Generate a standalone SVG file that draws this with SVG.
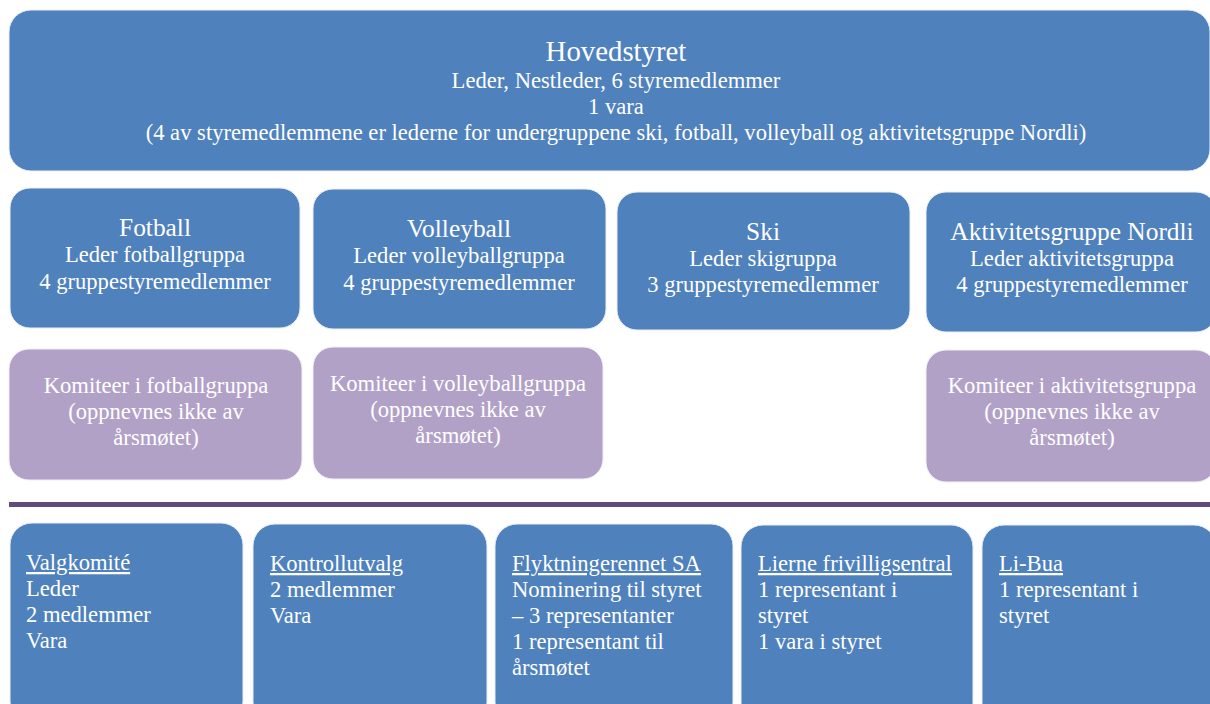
<svg xmlns="http://www.w3.org/2000/svg" width="1210" height="704" viewBox="0 0 1210 704">
<style>
.b{fill:#4f81bd;stroke:#e8eef7;stroke-width:1}
.p{fill:#b2a1c7;stroke:#f2eef7;stroke-width:1}
text{font-family:"Liberation Serif",serif;fill:#fff;font-size:22.6px}
.c{text-anchor:middle}
.t1{font-size:28.8px}
.t2{font-size:25.4px}
.u{text-decoration:underline}
</style>
<rect width="1210" height="704" fill="#fff"/>
<g id="hovedstyret">
<rect class="b" x="9" y="10" width="1201" height="161" rx="22"/>
<text class="c t1" x="616" y="61">Hovedstyret</text>
<text class="c" x="616" y="88">Leder, Nestleder, 6 styremedlemmer</text>
<text class="c" x="616" y="114">1 vara</text>
<text class="c" x="616" y="140">(4 av styremedlemmene er lederne for undergruppene ski, fotball, volleyball og aktivitetsgruppe Nordli)</text>
</g>
<g id="fotball">
<rect class="b" x="10" y="188" width="290" height="140" rx="20"/>
<text class="c t2" x="155" y="236">Fotball</text>
<text class="c" x="155" y="262">Leder fotballgruppa</text>
<text class="c" x="155" y="289">4 gruppestyremedlemmer</text>
</g>
<g id="volleyball">
<rect class="b" x="313" y="189" width="293" height="140" rx="20"/>
<text class="c t2" x="459" y="237">Volleyball</text>
<text class="c" x="459" y="263">Leder volleyballgruppa</text>
<text class="c" x="459" y="290">4 gruppestyremedlemmer</text>
</g>
<g id="ski">
<rect class="b" x="617" y="192" width="293" height="138" rx="20"/>
<text class="c t2" x="763" y="240">Ski</text>
<text class="c" x="763" y="266">Leder skigruppa</text>
<text class="c" x="763" y="292">3 gruppestyremedlemmer</text>
</g>
<g id="aktivitetsgruppe">
<rect class="b" x="926" y="192" width="290" height="140" rx="20"/>
<text class="c t2" x="1072" y="240">Aktivitetsgruppe Nordli</text>
<text class="c" x="1072" y="266">Leder aktivitetsgruppa</text>
<text class="c" x="1072" y="292">4 gruppestyremedlemmer</text>
</g>
<g id="komite-fotball">
<rect class="p" x="9" y="349" width="293" height="131" rx="20"/>
<text class="c" x="156" y="393">Komiteer i fotballgruppa</text>
<text class="c" x="156" y="419">(oppnevnes ikke av</text>
<text class="c" x="156" y="445">årsmøtet)</text>
</g>
<g id="komite-volleyball">
<rect class="p" x="313" y="347" width="290" height="132" rx="20"/>
<text class="c" x="458" y="391">Komiteer i volleyballgruppa</text>
<text class="c" x="458" y="417">(oppnevnes ikke av</text>
<text class="c" x="458" y="443">årsmøtet)</text>
</g>
<g id="komite-aktivitet">
<rect class="p" x="926" y="350" width="290" height="132" rx="20"/>
<text class="c" x="1072" y="393">Komiteer i aktivitetsgruppa</text>
<text class="c" x="1072" y="419">(oppnevnes ikke av</text>
<text class="c" x="1072" y="445">årsmøtet)</text>
</g>
<g id="connectors">
<rect x="9" y="502" width="1201" height="5" fill="#5f4b7d"/>
</g>
<g id="valgkomite">
<rect class="b" x="10" y="523" width="233" height="200" rx="22"/>
<text class="u" x="26" y="570">Valgkomité</text>
<text x="26" y="596">Leder</text>
<text x="26" y="622">2 medlemmer</text>
<text x="26" y="648">Vara</text>
</g>
<g id="kontrollutvalg">
<rect class="b" x="253" y="524" width="234" height="200" rx="22"/>
<text class="u" x="270" y="571">Kontrollutvalg</text>
<text x="270" y="597">2 medlemmer</text>
<text x="270" y="623">Vara</text>
</g>
<g id="flyktningerennet">
<rect class="b" x="495" y="524" width="238" height="200" rx="22"/>
<text class="u" x="512" y="571">Flyktningerennet SA</text>
<text x="512" y="597">Nominering til styret</text>
<text x="512" y="623">– 3 representanter</text>
<text x="512" y="649">1 representant til</text>
<text x="512" y="675">årsmøtet</text>
</g>
<g id="lierne">
<rect class="b" x="741" y="525" width="232" height="200" rx="22"/>
<text class="u" x="758" y="571">Lierne frivilligsentral</text>
<text x="758" y="597">1 representant i</text>
<text x="758" y="623">styret</text>
<text x="758" y="649">1 vara i styret</text>
</g>
<g id="libua">
<rect class="b" x="982" y="525" width="234" height="200" rx="22"/>
<text class="u" x="999" y="571">Li-Bua</text>
<text x="999" y="597">1 representant i</text>
<text x="999" y="623">styret</text>
</g>
</svg>
